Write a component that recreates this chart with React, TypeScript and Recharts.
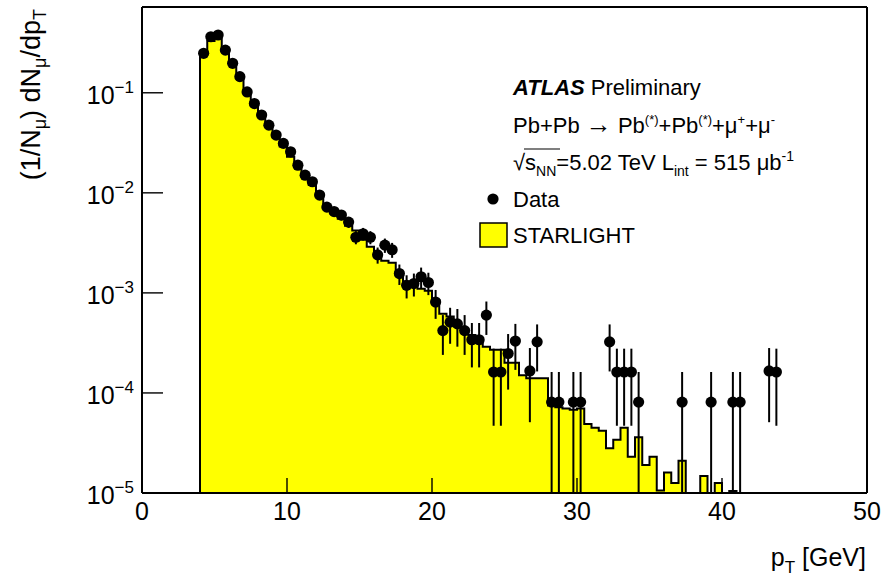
import React from 'react';
import { ComposedChart, Area, Scatter, ErrorBar, XAxis, YAxis } from 'recharts';

const FONT = '"Liberation Sans", Arial, Helvetica, sans-serif';
const Y_MIN = 1e-5;
const Y_MAX = 0.72;

// STARLIGHT histogram: low edge of each 0.5 GeV bin and its content
const MC_EDGES = [
  4.0, 4.5, 5.0, 5.5, 6.0, 6.5, 7.0, 7.5, 8.0, 8.5,
  9.0, 9.5, 10.0, 10.5, 11.0, 11.5, 12.0, 12.5, 13.0, 13.5,
  14.0, 14.5, 15.0, 15.5, 16.0, 16.5, 17.0, 17.5, 18.0, 18.5,
  19.0, 19.5, 20.0, 20.5, 21.0, 21.5, 22.0, 22.5, 23.0, 23.5,
  24.0, 24.5, 25.0, 25.5, 26.0, 26.5, 27.0, 27.5, 28.0, 28.5,
  29.0, 29.5, 30.0, 30.5, 31.0, 31.5, 32.0, 32.5, 33.0, 33.5,
  34.0, 34.5, 35.0, 35.5, 36.0, 36.5, 37.0, 37.5, 38.0, 38.5,
  39.0, 39.5, 40.0, 40.5,
];
const MC_LAST_EDGE = 41.0;
const MC_VALUES = [
  0.24, 0.33, 0.35, 0.26, 0.19, 0.14, 0.10, 0.075, 0.058, 0.046,
  0.036, 0.029, 0.023, 0.018, 0.0145, 0.012, 0.0092, 0.0073, 0.0062, 0.0055,
  0.0047, 0.0042, 0.0034, 0.0029, 0.0024, 0.0021, 0.0020, 0.0015, 0.0013, 0.0012,
  0.0011, 0.00105, 0.00085, 0.00062, 0.00058, 0.0005, 0.00044, 0.00038, 0.00033, 0.00029,
  0.00027, 0.00027, 0.0002, 0.0002, 0.00015, 0.00014, 0.00014, 0.00014, 0.000075, 0.000072,
  0.00007, 0.000068, 0.00007, 0.000049, 0.000045, 0.000042, 0.000028, 0.000034, 0.000045, 0.000023,
  0.000036, 0.000019, 0.000023, 0.0000106, 0.000016, 0.0000126, 0.000021, 0, 0, 0.0000148,
  0, 0.0000126, 0, 0.0000105,
];

// Data points (bin centres), values and statistical errors
const DATA_PT = [
  4.25, 4.75, 5.25, 5.75, 6.25, 6.75, 7.25, 7.75, 8.25, 8.75,
  9.25, 9.75, 10.25, 10.75, 11.25, 11.75, 12.25, 12.75, 13.25, 13.75,
  14.25, 14.75, 15.25, 15.75, 16.25, 16.75, 17.25, 17.75, 18.25, 18.75,
  19.25, 19.75, 20.25, 20.75, 21.25, 21.75, 22.25, 22.75, 23.25, 23.75,
  24.25, 24.75, 25.25, 25.75, 26.75, 27.25, 28.25, 28.75, 29.75, 30.25,
  32.25, 32.75, 33.25, 33.75, 34.25, 37.25, 39.25, 40.75, 41.25, 43.25,
  43.75,
];
const DATA_Y = [
  0.248, 0.363, 0.378, 0.267, 0.197, 0.145, 0.102, 0.078, 0.060, 0.0475,
  0.0378, 0.0312, 0.0257, 0.0189, 0.015, 0.0129, 0.0095, 0.0072, 0.0065, 0.006,
  0.0051, 0.0036, 0.0039, 0.0036, 0.0024, 0.003, 0.0027, 0.00156, 0.00119, 0.00124,
  0.00145, 0.00127, 0.00081, 0.00042, 0.00051, 0.00049, 0.00042, 0.00034, 0.00034, 0.0006,
  0.000162, 0.000162, 0.000248, 0.00033, 0.000166, 0.000324, 0.000081, 0.000081, 0.000081, 0.000081,
  0.000324, 0.000162, 0.000162, 0.000162, 0.000081, 0.000081, 0.000081, 0.000081, 0.000081, 0.000166,
  0.000162,
];
const DATA_ERR = [
  0.005, 0.006, 0.006, 0.005, 0.004, 0.0034, 0.0029, 0.0025, 0.0022, 0.002,
  0.0017, 0.0016, 0.0014, 0.0012, 0.0011, 0.001, 0.0009, 0.00076, 0.00072, 0.0007,
  0.00064, 0.00054, 0.00056, 0.00054, 0.00044, 0.00049, 0.00046, 0.00036, 0.00031, 0.00032,
  0.00034, 0.00032, 0.00026, 0.00018, 0.0002, 0.0002, 0.00018, 0.00016, 0.00016, 0.00022,
  0.000115, 0.000115, 0.00014, 0.00016, 0.000115, 0.00016, 0.000081, 0.000081, 0.000081, 0.000081,
  0.00016, 0.000115, 0.000115, 0.000115, 0.000081, 0.000081, 0.000081, 0.000081, 0.000081, 0.000115,
  0.000115,
];

const X_MAJOR = [0, 10, 20, 30, 40, 50];
const X_MINOR = [0, 2, 4, 6, 8, 10, 12, 14, 16, 18, 20, 22, 24, 26, 28, 30, 32, 34, 36, 38, 40, 42, 44, 46, 48, 50];
const Y_MAJOR = [1e-5, 1e-4, 1e-3, 1e-2, 1e-1];
const Y_MINOR = Y_MAJOR.flatMap((d) => [2, 3, 4, 5, 6, 7, 8, 9].map((m) => m * d)).filter((v) => v <= Y_MAX);

// step outline: closed down to the axis at both ends, empty bins sit on the axis
const mcTable = [
  { pt: MC_EDGES[0], mc: Y_MIN },
  ...MC_EDGES.map((e, i) => ({ pt: e, mc: Math.max(MC_VALUES[i], Y_MIN) })),
  { pt: MC_LAST_EDGE, mc: Math.max(MC_VALUES[MC_VALUES.length - 1], Y_MIN) },
  { pt: MC_LAST_EDGE, mc: Y_MIN },
];

const dataTable = DATA_PT.map((pt, i) => ({
  pt,
  y: DATA_Y[i],
  err: [Math.min(DATA_ERR[i], DATA_Y[i] - Y_MIN), DATA_ERR[i]],
}));

const YTickLabel = (props: any) => {
  const { x, y, payload } = props;
  const exp = Math.round(Math.log10(payload.value));
  return (
    <text x={x} y={y + 11} textAnchor="end" fontFamily={FONT} fontSize={25} fill="#000">
      10<tspan dy={-11} fontSize={17}>{'\u2212' + Math.abs(exp)}</tspan>
    </text>
  );
};

const XTickLabel = (props: any) => {
  const { x, y, payload } = props;
  return (
    <text x={x} y={y} textAnchor="middle" fontFamily={FONT} fontSize={25} fill="#000">
      {payload.value}
    </text>
  );
};

const Dot = (props: any) => <circle cx={props.cx} cy={props.cy} r={5.6} fill="#000" />;

const frame = { stroke: '#000', strokeWidth: 2 };
const tickStyle = { stroke: '#000', strokeWidth: 1.4 };
const xDom: [number, number] = [0, 50];
const yDom: [number, number] = [Y_MIN, Y_MAX];

const App: React.FC = () => {
  return (
    <div style={{ position: 'absolute', left: 0, top: 0, width: 894, height: 580, background: '#fff' }}>
      <ComposedChart width={894} height={580} data={mcTable} margin={{ top: 6, right: 26, bottom: 86, left: 141 }}>
        <Area
          xAxisId="x"
          yAxisId="y"
          type="stepAfter"
          dataKey="mc"
          baseValue={Y_MIN}
          stroke="#000"
          strokeWidth={2}
          fill="#ffff00"
          fillOpacity={1}
          dot={false}
          activeDot={false}
          isAnimationActive={false}
        />
        <Scatter xAxisId="x" yAxisId="y" data={dataTable} dataKey="y" shape={Dot} isAnimationActive={false}>
          <ErrorBar dataKey="err" direction="y" width={0} stroke="#000" strokeWidth={2} isAnimationActive={false} />
        </Scatter>

        {/* bottom: labelled major ticks (pointing inward) + minor ticks */}
        <XAxis
          xAxisId="x"
          dataKey="pt"
          type="number"
          domain={xDom}
          allowDataOverflow
          ticks={X_MAJOR}
          height={1}
          tickSize={-15}
          tickMargin={42}
          tick={XTickLabel}
          axisLine={frame}
          tickLine={tickStyle}
        />
        <XAxis xAxisId="xmin" type="number" domain={xDom} allowDataOverflow ticks={X_MINOR} height={1} mirror tickSize={8} tick={false} axisLine={false} tickLine={tickStyle} />
        {/* top */}
        <XAxis xAxisId="xtop" orientation="top" type="number" domain={xDom} allowDataOverflow ticks={X_MAJOR} height={1} tickSize={-15} tick={false} axisLine={frame} tickLine={tickStyle} />
        <XAxis xAxisId="xtopmin" orientation="top" type="number" domain={xDom} allowDataOverflow ticks={X_MINOR} height={1} mirror tickSize={8} tick={false} axisLine={false} tickLine={tickStyle} />

        {/* left */}
        <YAxis
          yAxisId="y"
          type="number"
          scale="log"
          domain={yDom}
          allowDataOverflow
          ticks={Y_MAJOR}
          width={1}
          tickSize={-21}
          tickMargin={29}
          tick={YTickLabel}
          axisLine={frame}
          tickLine={tickStyle}
        />
        <YAxis yAxisId="ymin" type="number" scale="log" domain={yDom} allowDataOverflow ticks={Y_MINOR} width={1} mirror tickSize={10} tick={false} axisLine={false} tickLine={tickStyle} />
        {/* right */}
        <YAxis yAxisId="yr" orientation="right" type="number" scale="log" domain={yDom} allowDataOverflow ticks={Y_MAJOR} width={1} tickSize={-21} tick={false} axisLine={frame} tickLine={tickStyle} />
        <YAxis yAxisId="yrmin" orientation="right" type="number" scale="log" domain={yDom} allowDataOverflow ticks={Y_MINOR} width={1} mirror tickSize={10} tick={false} axisLine={false} tickLine={tickStyle} />
      </ComposedChart>

      <svg width={894} height={580} style={{ position: 'absolute', left: 0, top: 0, pointerEvents: 'none' }} fontFamily={FONT}>
        {/* axis titles */}
        <text transform="translate(40, 9) rotate(-90)" textAnchor="end" fontSize={27} fill="#000">
          (1/N<tspan dy={6} fontSize={18}>μ</tspan>
          <tspan dy={-6}>) dN</tspan>
          <tspan dy={6} fontSize={18}>μ</tspan>
          <tspan dy={-6}>/dp</tspan>
          <tspan dy={6} fontSize={18}>T</tspan>
        </text>
        <text x={866} y={566} textAnchor="end" fontSize={25} fill="#000">
          p<tspan dy={7} fontSize={17}>T</tspan>
          <tspan dy={-7}> [GeV]</tspan>
        </text>

        {/* legend block */}
        <text x={513} y={95} fontSize={22} fill="#000">
          <tspan fontWeight="bold" fontStyle="italic">ATLAS</tspan> Preliminary
        </text>
        <text x={513} y={133} fontSize={22} fill="#000">
          Pb+Pb <tspan fontSize={26}>→</tspan> Pb<tspan dy={-9} fontSize={13}>(*)</tspan>
          <tspan dy={9}>+Pb</tspan>
          <tspan dy={-9} fontSize={13}>(*)</tspan>
          <tspan dy={9}>+μ</tspan>
          <tspan dy={-9} fontSize={13}>+</tspan>
          <tspan dy={9}>+μ</tspan>
          <tspan dy={-9} fontSize={13}>-</tspan>
        </text>
        <text x={513} y={170} fontSize={22} fill="#000">
          √s<tspan dy={6} fontSize={14}>NN</tspan>
          <tspan dy={-6}>=5.02 TeV  L</tspan>
          <tspan dy={6} fontSize={14}>int</tspan>
          <tspan dy={-6}> = 515 μb</tspan>
          <tspan dy={-9} fontSize={14}>-1</tspan>
        </text>
        <line x1={524} y1={149} x2={560} y2={149} stroke="#000" strokeWidth={1.2} />

        <circle cx={493} cy={199} r={5.6} fill="#000" />
        <text x={513} y={207} fontSize={22} fill="#000">Data</text>
        <rect x={480} y={223} width={27} height={24} fill="#ffff00" stroke="#000" strokeWidth={1.5} />
        <text x={513} y={243} fontSize={22} fill="#000">STARLIGHT</text>
      </svg>
    </div>
  );
};

export default App;
